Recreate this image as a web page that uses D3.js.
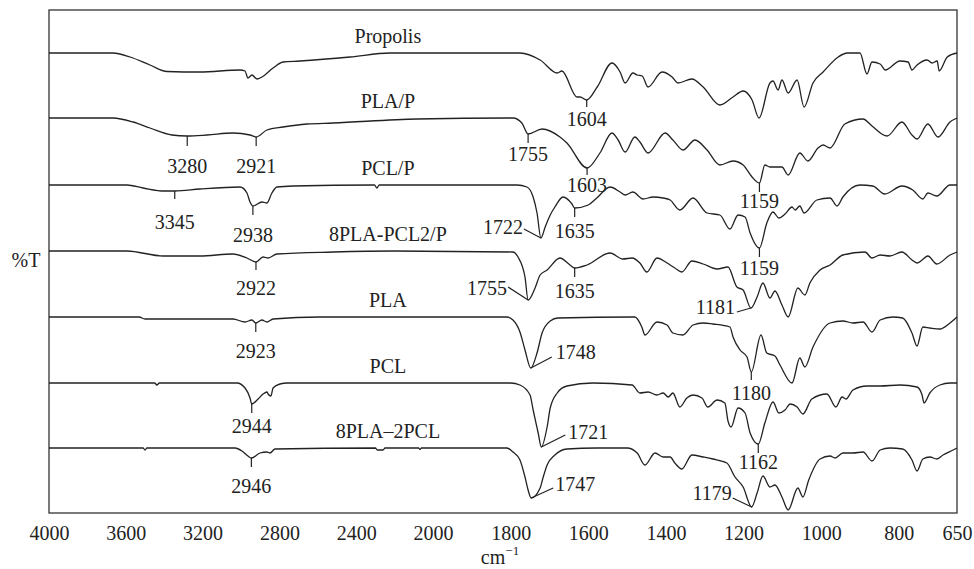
<!DOCTYPE html>
<html>
<head>
<meta charset="utf-8">
<script src="https://cdn.jsdelivr.net/npm/d3@7"></script>
<style>
  body { margin: 0; background: #fff; }
  text { font-family: "Liberation Serif", "Times New Roman", serif; fill: #222; }
</style>
</head>
<body>
<div id="chart"></div>
<script>
// sample names, top to bottom
var seriesNames = ["Propolis", "PLA/P", "PCL/P", "8PLA-PCL2/P", "PLA", "PCL", "8PLA\u20132PCL"];

// vertical stacking of each spectrum (same units as %T values)
var seriesOffsets = [460, 395, 328, 262, 196, 130, 65];

// spectra: [wavenumber cm-1, relative %T]
var propolis = [[4000,0],[3667,0],[3578,-4],[3474,-12],[3385,-18.5],[3214,-19],[3005,-17],[2979,-18],[2964,-25],[2943,-22],[2917,-26],[2891,-24],[2833,-15],[2781,-9],[2693,-8],[2432,-4],[2224,0],[1776,0],[1724,-7],[1680,-20],[1668,-18],[1629,-44],[1621,-44],[1604,-47],[1577,-34],[1539,-10],[1518,-19],[1505,-30],[1485,-20],[1474,-22],[1461,-23],[1446,-34],[1410,-19],[1384,-24],[1369,-30],[1333,-26],[1304,-34],[1261,-52],[1227,-44],[1201,-38],[1178,-47],[1160,-65],[1132,-30],[1124,-28],[1111,-37],[1101,-27],[1085,-40],[1062,-27],[1044,-54],[1021,-30],[995,-19],[956,-4],[933,0],[900,0],[882,-21],[869,-9],[848,-11],[835,-17],[797,-8],[776,-9],[766,-17],[753,-12],[727,-7],[714,-10],[701,-8],[696,-18],[675,-4],[650,0]];

var plaP = [[4000,0],[3667,0],[3562,-4],[3474,-10],[3360,-17],[3280,-18],[3177,-17],[3042,-15],[2953,-17],[2921,-19],[2865,-12],[2781,-9],[2656,-6],[2521,-5],[2083,-1],[1794,0],[1771,-5],[1755,-16],[1719,-11],[1673,-19],[1655,-25],[1603,-50],[1570,-35],[1539,-15],[1523,-22],[1505,-34],[1480,-19],[1467,-24],[1446,-35],[1402,-15],[1382,-22],[1356,-32],[1325,-22],[1294,-32],[1261,-47],[1227,-43],[1201,-47],[1178,-59],[1159,-65],[1145,-47],[1132,-49],[1101,-49],[1085,-57],[1055,-35],[1034,-43],[1008,-30],[995,-27],[977,-30],[939,-6],[892,-1],[869,-8],[830,-18],[792,-4],[766,-17],[753,-21],[725,-6],[699,-19],[668,-4],[650,0]];

var pclP = [[4000,0],[3594,0],[3510,-3],[3400,-6],[3345,-6],[3214,-4],[3005,-2],[2969,-8],[2953,-17],[2938,-21],[2891,-17],[2865,-18],[2839,-8],[2813,-2],[2729,-1],[2305,0],[2292,-3],[2280,0],[1784,0],[1758,-2],[1742,-12],[1732,-28],[1722,-53],[1711,-42],[1698,-30],[1686,-22],[1665,-12],[1642,-19],[1635,-23],[1600,-20],[1578,-13],[1544,-2],[1518,-7],[1505,-10],[1485,-7],[1459,-14],[1433,-12],[1407,-13],[1389,-15],[1364,-25],[1330,-13],[1294,-28],[1261,-30],[1235,-44],[1214,-30],[1196,-32],[1183,-48],[1159,-63],[1140,-38],[1124,-27],[1109,-33],[1093,-29],[1075,-22],[1067,-25],[1055,-21],[1044,-28],[1011,-15],[977,-13],[959,-21],[944,-12],[900,0],[867,-1],[836,-9],[792,-1],[764,-5],[738,-14],[725,-8],[702,-11],[668,0],[650,0]];

var plaPclP = [[4000,0],[3594,0],[3406,-5],[3214,-5],[3042,-3],[2969,-7],[2922,-11],[2885,-6],[2859,-7],[2813,-3],[2521,-1],[2200,0],[1794,-1],[1781,-6],[1763,-26],[1755,-49],[1737,-37],[1724,-24],[1706,-19],[1673,-7],[1647,-14],[1635,-17],[1603,-14],[1544,-2],[1511,-8],[1487,-7],[1467,-12],[1449,-21],[1423,-7],[1397,-12],[1377,-17],[1359,-21],[1333,-10],[1304,-13],[1268,-18],[1240,-16],[1217,-36],[1201,-39],[1181,-57],[1165,-46],[1150,-32],[1132,-47],[1119,-40],[1101,-54],[1085,-66],[1060,-37],[1042,-44],[1029,-32],[1003,-19],[977,-14],[944,-4],[887,-1],[869,-7],[848,-4],[823,-5],[792,-1],[766,-9],[753,-12],[740,-9],[725,-5],[702,-13],[668,-4],[650,-1]];

var pla = [[4000,0],[3531,0],[3500,-2],[3042,-2],[2979,-5],[2943,-3],[2923,-6],[2891,-3],[2865,-5],[2833,-2],[2589,0],[1810,0],[1794,-3],[1776,-15],[1763,-33],[1748,-51],[1732,-36],[1719,-16],[1698,-4],[1678,-1],[1480,0],[1462,-10],[1454,-18],[1423,-5],[1397,-8],[1382,-16],[1356,-18],[1330,-8],[1304,-6],[1279,-7],[1235,-10],[1227,-20],[1209,-33],[1191,-40],[1180,-55],[1155,-18],[1140,-36],[1119,-39],[1106,-48],[1075,-66],[1055,-41],[1042,-50],[1021,-30],[977,-6],[944,-4],[918,-6],[892,-5],[869,-15],[848,-3],[815,0],[790,-1],[766,-16],[753,-29],[738,-10],[720,-11],[694,-12],[668,-6],[650,0]];

var pcl = [[4000,0],[3450,0],[3438,-2],[3425,0],[3021,0],[2979,-5],[2953,-15],[2944,-21],[2911,-16],[2885,-11],[2865,-9],[2859,-11],[2844,-13],[2833,-5],[2797,-1],[2760,0],[1800,0],[1776,-2],[1750,-12],[1742,-27],[1729,-50],[1721,-64],[1706,-44],[1698,-25],[1680,-10],[1655,-3],[1588,0],[1487,-2],[1467,-10],[1446,-9],[1423,-12],[1407,-10],[1394,-14],[1382,-10],[1364,-24],[1346,-15],[1330,-12],[1307,-15],[1292,-24],[1268,-17],[1248,-20],[1240,-38],[1232,-44],[1214,-25],[1196,-30],[1183,-50],[1162,-61],[1145,-40],[1124,-19],[1109,-30],[1093,-27],[1080,-21],[1062,-24],[1047,-31],[1024,-16],[985,-11],[962,-24],[946,-14],[936,-16],[918,-7],[882,-3],[848,-3],[797,-2],[753,-4],[740,-12],[735,-20],[720,-10],[694,-2],[668,0],[650,0]];

var pla2pcl = [[4000,0],[3510,0],[3500,-2],[3490,0],[3031,0],[2995,-3],[2964,-8],[2946,-10],[2901,-5],[2865,-4],[2849,-5],[2823,-1],[2300,0],[2290,-2],[2260,-2],[2250,0],[2075,0],[2068,-1.5],[2060,0],[1810,0],[1794,-4],[1776,-12],[1763,-29],[1755,-42],[1747,-50],[1724,-40],[1716,-29],[1706,-17],[1686,-7],[1655,-1],[1578,0],[1500,0],[1474,-5],[1454,-17],[1428,-5],[1407,-9],[1389,-9],[1377,-15],[1359,-21],[1333,-7],[1304,-9],[1279,-11],[1243,-15],[1222,-29],[1201,-39],[1179,-59],[1165,-45],[1150,-28],[1132,-39],[1119,-37],[1101,-49],[1085,-62],[1060,-40],[1047,-49],[1032,-32],[1003,-11],[977,-8],[964,-10],[944,-5],[918,-5],[892,-4],[869,-13],[848,-2],[823,0],[790,-1],[766,-12],[753,-23],[738,-11],[720,-9],[702,-11],[686,-7],[660,-2],[650,0]];

var spectra = [propolis, plaP, pclP, plaPclP, pla, pcl, pla2pcl];

// labelled bands: which spectrum, and wavenumber
var bandSeries = [0, 1, 1, 1, 1, 1, 2, 2, 2, 2, 2, 3, 3, 3, 3, 4, 4, 4, 5, 5, 5, 6, 6, 6];
var bandWn = [1604, 3280, 2921, 1755, 1603, 1159, 3345, 2938, 1722, 1635, 1159, 2922, 1755, 1635, 1181, 2923, 1748, 1180, 2944, 1721, 1162, 2946, 1747, 1179];

// x axis tick labels
var xTicks = [4000, 3600, 3200, 2800, 2400, 2000, 1800, 1600, 1400, 1200, 1000, 800, 650];

// label placement (pixels): "v" = tick below + label, "l" = slanted leader
var bandLayout = [
  ["v", 7, 26], ["v", 10, 37], ["v", 9, 36], ["v", 9, 27], ["v", 7, 24], ["v", 9, 25],
  ["v", 8, 38], ["v", 9, 36], ["l", -17, -9, -18, -4, "end"], ["v", 9, 30], ["v", 9, 27],
  ["v", 8, 33], ["l", -20, -13, -21, -5, "end"], ["v", 9, 30], ["l", -14, 4, -16, 6, "end"],
  ["v", 9, 35], ["l", 21, -11, 25, -9, "start"], ["v", 8, 28],
  ["v", 9, 29], ["l", 24, -12, 27, -8, "start"], ["v", 9, 25],
  ["v", 9, 35], ["l", 22, -10, 24, -7, "start"], ["l", -19, -9, -20, -7, "end"]
];

var svgWidth = 974;
var svgHeight = 569;
var margin = {top: 10, right: 17, bottom: 56, left: 49};
var width = svgWidth - margin.left - margin.right;
var height = svgHeight - margin.top - margin.bottom;

var svg = d3.select("#chart")
  .append("svg")
  .attr("width", svgWidth)
  .attr("height", svgHeight);

var chart = svg.append("g")
  .attr("transform", `translate(${margin.left}, ${margin.top})`);

// FTIR style axis: scale doubles below 2000 cm-1
var xScale = d3.scaleLinear()
  .domain([4000, 2000, 650])
  .range([0, width * 384 / 908, width]);

var yScale = d3.scaleLinear()
  .domain([0, height])
  .range([height, 0]);

// interpolate a spectrum at a given wavenumber
function valueAt(data, wn) {
  for (var i = 0; i < data.length - 1; i++) {
    var a = data[i], b = data[i + 1];
    if (wn <= a[0] && wn >= b[0]) {
      var t = (a[0] - wn) / (a[0] - b[0]);
      return a[1] + t * (b[1] - a[1]);
    }
  }
  return 0;
}

// frame
chart.append("rect")
  .attr("width", width)
  .attr("height", height)
  .attr("fill", "none")
  .attr("stroke", "#333")
  .attr("stroke-width", 1.3);

// bottom axis, labels only
var bottomAxis = d3.axisBottom(xScale)
  .tickValues(xTicks)
  .tickSize(0)
  .tickPadding(13)
  .tickFormat(d3.format("d"));

var axisG = chart.append("g")
  .attr("transform", `translate(0, ${height})`)
  .call(bottomAxis);
axisG.select(".domain").remove();
axisG.selectAll("text")
  .style("font-family", "'Liberation Serif', 'Times New Roman', serif")
  .style("font-size", "20px")
  .attr("fill", "#222");

// spectra
var line = d3.line()
  .curve(d3.curveMonotoneX);

spectra.forEach(function(data, i) {
  line.x(d => xScale(d[0]))
    .y(d => yScale(seriesOffsets[i] + d[1]));
  chart.append("path")
    .datum(data)
    .attr("d", line)
    .attr("fill", "none")
    .attr("stroke", "#222")
    .attr("stroke-width", 1.3)
    .attr("stroke-linejoin", "round");

  // sample name above its trace
  chart.append("text")
    .attr("x", xScale(2235))
    .attr("y", yScale(seriesOffsets[i] + 10))
    .attr("text-anchor", "middle")
    .style("font-size", "20px")
    .text(seriesNames[i]);
});

// band labels
bandWn.forEach(function(wn, k) {
  var s = bandSeries[k];
  var px = xScale(wn);
  var py = yScale(seriesOffsets[s] + valueAt(spectra[s], wn));
  var lay = bandLayout[k];
  if (lay[0] === "v") {
    chart.append("line")
      .attr("x1", px).attr("x2", px)
      .attr("y1", py).attr("y2", py + lay[1])
      .attr("stroke", "#222")
      .attr("stroke-width", 1.2);
    chart.append("text")
      .attr("x", px)
      .attr("y", py + lay[2])
      .attr("text-anchor", "middle")
      .style("font-size", "20px")
      .text(wn);
  } else {
    chart.append("line")
      .attr("x1", px).attr("x2", px + lay[1])
      .attr("y1", py).attr("y2", py + lay[2])
      .attr("stroke", "#222")
      .attr("stroke-width", 1.2);
    chart.append("text")
      .attr("x", px + lay[3])
      .attr("y", py + lay[4])
      .attr("text-anchor", lay[5])
      .style("font-size", "20px")
      .text(wn);
  }
});

// axis titles
svg.append("text")
  .attr("x", 26)
  .attr("y", 267)
  .attr("text-anchor", "middle")
  .style("font-size", "20px")
  .text("%T");

var xTitle = svg.append("text")
  .attr("x", 500)
  .attr("y", 564)
  .attr("text-anchor", "middle")
  .style("font-size", "20px");
xTitle.append("tspan").text("cm");
xTitle.append("tspan")
  .attr("dy", -9)
  .style("font-size", "13px")
  .text("\u22121");
</script>
</body>
</html>
